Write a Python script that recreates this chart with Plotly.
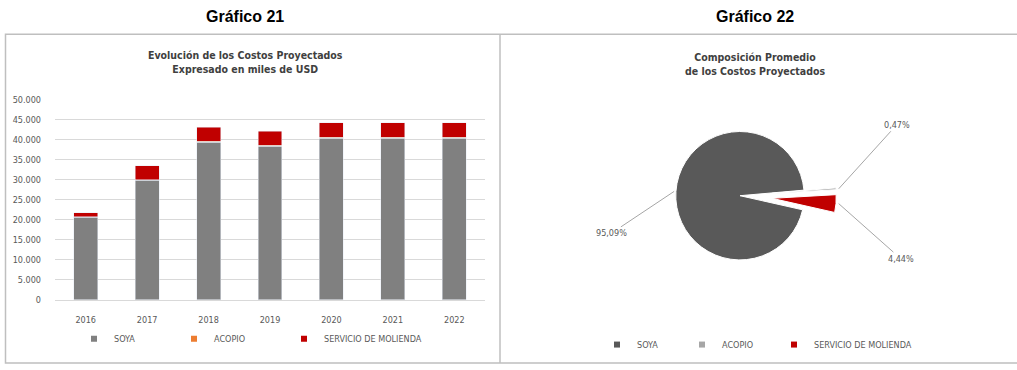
import math
import plotly.graph_objects as go

# ---------------- data ----------------
years = ["2016", "2017", "2018", "2019", "2020", "2021", "2022"]
soya = [20600, 29800, 39300, 38300, 40300, 40300, 40300]
acopio = [150, 200, 200, 200, 200, 200, 200]
molienda = [950, 3500, 3500, 3600, 3700, 3700, 3700]

pie_labels = ["SOYA", "ACOPIO", "SERVICIO DE MOLIENDA"]
pie_values = [95.09, 0.47, 4.44]
pie_text = ["95,09%", "0,47%", "4,44%"]

y_ticks = [0, 5000, 10000, 15000, 20000, 25000, 30000, 35000, 40000, 45000, 50000]

# ---------------- style ----------------
W, H = 1017, 370
NARROW = "DejaVu Sans Condensed, Liberation Sans Narrow, Arial Narrow, sans-serif"
TXT = "#595959"
C_SOYA_BAR = "#808080"
C_ACOPIO_BAR = "#ed7d31"
C_MOL = "#c00000"
C_SOYA_PIE = "#595959"
C_ACOPIO_PIE = "#a6a6a6"


def px_x(p):
    return p / W


def px_y(p):
    return 1 - p / H


fig = go.Figure()

bar_series = [(soya, "SOYA", C_SOYA_BAR), (acopio, "ACOPIO", C_ACOPIO_BAR),
              (molienda, "SERVICIO DE MOLIENDA", C_MOL)]
for vals, name, col in bar_series:
    fig.add_trace(go.Bar(x=years, y=vals, name=name, marker_color=col,
                         showlegend=False))

# pie geometry
pie_cx, pie_cy, pie_r, pull = 740, 196, 66, 0.5
half = pie_r * (1 + pull)
rotation = 102.7
pulls = [0, pull, pull]
pie_colors = [C_SOYA_PIE, C_ACOPIO_PIE, C_MOL]

fig.add_trace(go.Pie(
    labels=pie_labels, values=pie_values, sort=False, direction="clockwise",
    rotation=rotation, pull=pulls, textinfo="none", hoverinfo="label+percent",
    marker=dict(colors=pie_colors, line=dict(color="white", width=1)),
    domain=dict(x=[px_x(pie_cx - half), px_x(pie_cx + half)],
                y=[px_y(pie_cy + half), px_y(pie_cy - half)]),
    showlegend=False,
))

# legend entries (one legend per entry so spacing can match)
legend_layout = {}
bar_leg_x = [97, 197, 307]
pie_leg_x = [620, 705, 797]
idx = 1
entries = [(name, col, bar_leg_x[i], 343) for i, (_, name, col) in enumerate(bar_series)]
entries += [(pie_labels[i], pie_colors[i], pie_leg_x[i], 349) for i in range(3)]
for name, col, mx, my in entries:
    key = "legend" if idx == 1 else f"legend{idx}"
    fig.add_trace(go.Scatter(x=[None], y=[None], mode="markers", name=name,
                             marker=dict(symbol="square", size=6, color=col),
                             legend=key, showlegend=True, hoverinfo="skip"))
    legend_layout[key] = dict(x=px_x(mx - 23), y=px_y(my), xanchor="left",
                              yanchor="middle", orientation="h",
                              bgcolor="rgba(0,0,0,0)",
                              font=dict(family=NARROW, size=9, color=TXT))
    idx += 1

annotations = [
    dict(text="<b>Gráfico 21</b>", x=px_x(245), y=px_y(12)),
    dict(text="<b>Gráfico 22</b>", x=px_x(755), y=px_y(12)),
]
for a in annotations:
    a.update(xref="paper", yref="paper", xanchor="center", yanchor="middle",
             showarrow=False,
             font=dict(family="Liberation Sans, Arial, sans-serif", size=16, color="black"))

for txt, cx, cy in [("Evolución de los Costos Proyectados<br>Expresado en miles de USD", 245, 59),
                    ("Composición Promedio<br>de los Costos Proyectados", 755, 61)]:
    annotations.append(dict(text=txt, x=px_x(cx), y=px_y(cy), xref="paper", yref="paper",
                            xanchor="center", yanchor="middle", showarrow=False,
                            font=dict(family=NARROW, size=10.5, color="#404040",
                                      weight=600)))

# pie leader labels, tips derived from slice angles
total = sum(pie_values)
offsets = [(-63, 42), (58, -64), (62, 55)]
start = rotation
for val, txt, p, (ax, ay) in zip(pie_values, pie_text, pulls, offsets):
    span = val / total * 360
    mid = math.radians(start + span / 2)
    start += span
    dist = pie_r * (1 + p)
    tx = pie_cx + dist * math.sin(mid)
    ty = pie_cy - dist * math.cos(mid)
    annotations.append(dict(
        text=txt, x=px_x(tx), y=px_y(ty), xref="paper", yref="paper",
        showarrow=True, arrowhead=0, arrowwidth=1, arrowcolor="#a6a6a6",
        ax=ax, ay=ay, font=dict(family=NARROW, size=9, color=TXT)))

shapes = [
    dict(type="rect", xref="paper", yref="paper", x0=px_x(5.5), x1=px_x(1020),
         y0=px_y(368), y1=px_y(30), line=dict(color="#bfbfbf", width=1.5)),
    dict(type="line", xref="paper", yref="paper", x0=px_x(500), x1=px_x(500),
         y0=px_y(368), y1=px_y(30), line=dict(color="#bfbfbf", width=1.5)),
]

fig.update_layout(
    width=W, height=H, margin=dict(l=0, r=0, t=0, b=0),
    paper_bgcolor="white", plot_bgcolor="white",
    barmode="stack", bargap=0.61, separators=",.",
    font=dict(family=NARROW, size=9, color=TXT),
    xaxis=dict(domain=[px_x(55), px_x(485)], showgrid=False, showline=True,
               linecolor="#d9d9d9", ticks="", tickfont=dict(size=9, color=TXT),
               ticklabelstandoff=11, fixedrange=True),
    yaxis=dict(domain=[px_y(303), px_y(97)], range=[0, 50000], tickvals=y_ticks,
               tickformat=",d", showgrid=True, gridcolor="#d9d9d9", gridwidth=1,
               zeroline=False, ticks="", tickfont=dict(size=9, color=TXT),
               ticklabelstandoff=13, fixedrange=True),
    annotations=annotations, shapes=shapes, showlegend=True,
    **legend_layout,
)

fig.write_html("out.html")
